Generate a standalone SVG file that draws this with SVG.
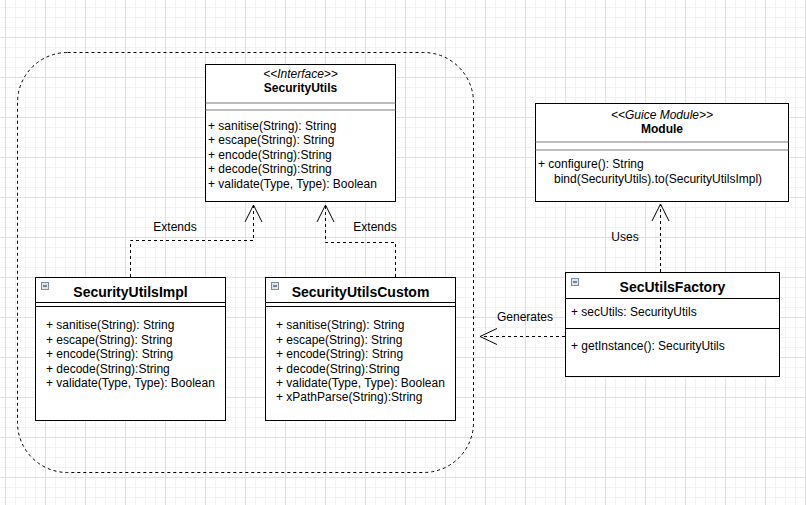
<svg xmlns="http://www.w3.org/2000/svg" width="806" height="505" viewBox="0 0 806 505">
<style>
  text { font-family: "Liberation Sans", Arial, Helvetica, sans-serif; font-size: 12px; fill: #000; }
  .b { font-weight: bold; }
  .t { font-weight: bold; font-size: 14px; }
  .i { font-style: italic; }
  .c { text-anchor: middle; }
  .box { fill: #fff; stroke: #000; stroke-width: 1; }
  .sep { stroke: #000; stroke-width: 1; fill: none; }
  .sepg { stroke: #7a7a7a; stroke-width: 1; fill: none; }
  .dash { fill: none; stroke: #000; stroke-width: 1; stroke-dasharray: 3 3; }
  .head { fill: none; stroke: #000; stroke-width: 1; }
  .ico { fill: #dfe5ec; stroke: #7d8ea3; stroke-width: 1; }
  .icol { stroke: #222; stroke-width: 1; }
</style>
<defs>
  <pattern id="grid" patternUnits="userSpaceOnUse" x="5" y="37" width="40" height="40">
    <path d="M10.5 0V40M20.5 0V40M30.5 0V40M0 10.5H40M0 20.5H40M0 30.5H40" stroke="#f3f3f3" stroke-width="1" fill="none"/>
    <path d="M0.5 0V40M0 0.5H40" stroke="#e0e0e0" stroke-width="1" fill="none"/>
  </pattern>
</defs>
<rect x="0" y="0" width="806" height="505" fill="#fff"/>
<rect x="0" y="0" width="806" height="505" fill="url(#grid)"/>

<g id="container">
  <rect x="17.5" y="52.5" width="456" height="420" rx="50" ry="50" class="dash"/>
</g>

<g id="connectors">
  <path class="dash" d="M130.5 277V240.5H253.5V206"/>
  <path class="head" d="M245 222L253.5 205L262 222"/>
  <path class="dash" d="M395.5 277V242.5H325.5V206"/>
  <path class="head" d="M317 222L325.5 205L334 222"/>
  <path class="dash" d="M660.5 272V205"/>
  <path class="head" d="M652 221L660.5 204L669 221"/>
  <path class="dash" d="M565 336.5H481"/>
  <path class="head" d="M497 328.5L480 336.5L497 344.5"/>
  <text class="c" x="175" y="231">Extends</text>
  <text class="c" x="375" y="231">Extends</text>
  <text class="c" x="625" y="241">Uses</text>
  <text class="c" x="525" y="321">Generates</text>
</g>

<g id="SecurityUtils">
  <rect class="box" x="205.5" y="64.5" width="190" height="137"/>
  <path class="sepg" d="M205.5 103H395.5M205.5 110H395.5"/>
  <text class="c i" x="300.5" y="78">&lt;&lt;Interface&gt;&gt;</text>
  <text class="c b" x="300.5" y="92">SecurityUtils</text>
  <text x="208" y="130">+ sanitise(String): String</text>
  <text x="208" y="144.4">+ escape(String): String</text>
  <text x="208" y="158.8">+ encode(String):String</text>
  <text x="208" y="173.2">+ decode(String):String</text>
  <text x="208" y="187.6">+ validate(Type, Type): Boolean</text>
</g>

<g id="SecurityUtilsImpl">
  <rect class="box" x="35.5" y="277.5" width="190" height="143"/>
  <path class="sep" d="M35.5 302.5H225.5M35.5 306.5H225.5"/>
  <rect class="ico" x="41.5" y="282.5" width="7" height="7"/>
  <path class="icol" d="M43 286H47"/>
  <text class="c t" x="130.5" y="297">SecurityUtilsImpl</text>
  <text x="46" y="329.3">+ sanitise(String): String</text>
  <text x="46" y="343.7">+ escape(String): String</text>
  <text x="46" y="358.1">+ encode(String): String</text>
  <text x="46" y="372.5">+ decode(String):String</text>
  <text x="46" y="386.9">+ validate(Type, Type): Boolean</text>
</g>

<g id="SecurityUtilsCustom">
  <rect class="box" x="265.5" y="277.5" width="190" height="143"/>
  <path class="sep" d="M265.5 302.5H455.5M265.5 306.5H455.5"/>
  <rect class="ico" x="271.5" y="282.5" width="7" height="7"/>
  <path class="icol" d="M273 286H277"/>
  <text class="c t" x="360.5" y="297">SecurityUtilsCustom</text>
  <text x="276" y="329.3">+ sanitise(String): String</text>
  <text x="276" y="343.7">+ escape(String): String</text>
  <text x="276" y="358.1">+ encode(String): String</text>
  <text x="276" y="372.5">+ decode(String):String</text>
  <text x="276" y="386.9">+ validate(Type, Type): Boolean</text>
  <text x="276" y="401.3">+ xPathParse(String):String</text>
</g>

<g id="Module">
  <rect class="box" x="535.5" y="103.5" width="253" height="98"/>
  <path class="sepg" d="M535.5 142H788.5M535.5 150H788.5"/>
  <text class="c i" x="662" y="119">&lt;&lt;Guice Module&gt;&gt;</text>
  <text class="c b" x="662" y="133">Module</text>
  <text x="538" y="168.3">+ configure(): String</text>
  <text x="554" y="182.7">bind(SecurityUtils).to(SecurityUtilsImpl)</text>
</g>

<g id="SecUtilsFactory">
  <rect class="box" x="565.5" y="272.5" width="214" height="104"/>
  <path class="sep" d="M565.5 298.5H779.5M565.5 328.5H779.5"/>
  <rect class="ico" x="571.5" y="278.5" width="7" height="7"/>
  <path class="icol" d="M573 282H577"/>
  <text class="c t" x="672.5" y="291.7">SecUtilsFactory</text>
  <text x="571" y="316.3">+ secUtils: SecurityUtils</text>
  <text x="571" y="350.3">+ getInstance(): SecurityUtils</text>
</g>
</svg>
